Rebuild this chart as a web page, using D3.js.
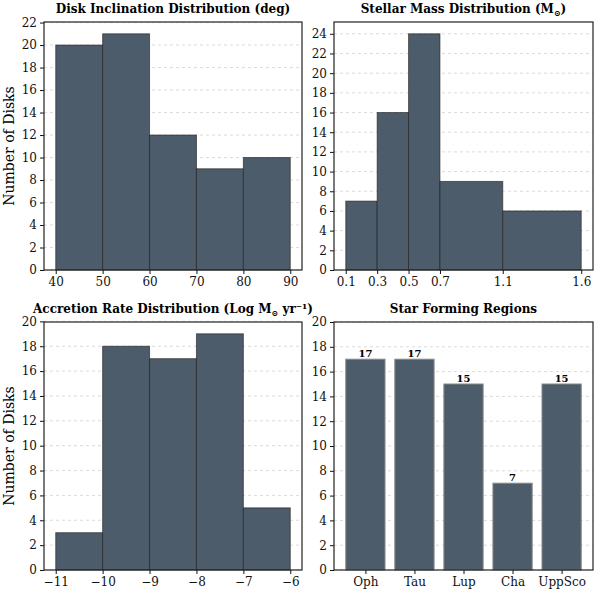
<!DOCTYPE html><html><head><meta charset="utf-8"><script src="https://cdn.jsdelivr.net/npm/d3@7"></script>
<style>body{margin:0;background:#fff}text{font-family:"DejaVu Serif",serif}</style></head><body><svg id="c" width="595" height="590"></svg>
<script>
const incBins=[40,50,60,70,80,90], incCounts=[20,21,12,9,10];
const massBins=[0.1,0.3,0.5,0.7,1.1,1.6], massCounts=[7,16,24,9,6];
const accBins=[-11,-10,-9,-8,-7,-6], accCounts=[3,18,17,19,5];
const regions=["Oph","Tau","Lup","Cha","UppSco"], regionCounts=[17,17,15,7,15];
const svg=d3.select("#c");
const fill="#4d5c6b";
function panel(x0,x1,y0,y1,title,ylabel,xdom,ydom,yticks){
  const g=svg.append("g");
  const x=d3.scaleLinear().domain(xdom).range([x0,x1]);
  const y=d3.scaleLinear().domain(ydom).range([y1,y0]);
  g.selectAll(".gr").data(yticks).join("line").attr("x1",x0).attr("x2",x1).attr("y1",d=>y(d)).attr("y2",d=>y(d)).attr("stroke","#ccc").attr("stroke-dasharray","3,3").attr("stroke-width",0.7);
  const t=g.append("text").attr("x",(x0+x1)/2).attr("y",y0-9).attr("text-anchor","middle").attr("font-weight","bold").attr("font-size",12);
  title.forEach(([s,sub])=>{const ts=t.append("tspan").text(s);if(sub){ts.attr("font-size",8).attr("dy",3);}else if(t.selectAll("tspan").size()>1){ts.attr("dy",-3);} });
  if(ylabel) g.append("text").attr("transform",`translate(${x0-30},${(y0+y1)/2}) rotate(-90)`).attr("text-anchor","middle").attr("font-size",14).text(ylabel);
  return {g,x,y,x0,x1,y0,y1,yticks};
}
function frame(p,xticks,xfmt){
  const {g,x,y,x0,x1,y0,y1}=p;
  const ya=g.append("g").attr("transform",`translate(${x0},0)`).call(d3.axisLeft(y).tickValues(p.yticks).tickSize(4).tickPadding(3));
  const xa=g.append("g").attr("transform",`translate(0,${y1})`).call(d3.axisBottom(x).tickValues(xticks).tickFormat(xfmt).tickSize(4).tickPadding(3));
  [ya,xa].forEach(a=>{a.select(".domain").remove();a.selectAll("text").attr("font-size",12).attr("fill","#111").style("font-family","DejaVu Serif");a.selectAll("line").attr("stroke","#111");});
  g.append("rect").attr("x",x0).attr("y",y0).attr("width",x1-x0).attr("height",y1-y0).attr("fill","none").attr("stroke","#222").attr("stroke-width",1.2);
}
function hist(p,bins,counts){
  p.g.selectAll(".b").data(counts).join("rect").attr("x",(d,i)=>p.x(bins[i])).attr("width",(d,i)=>p.x(bins[i+1])-p.x(bins[i])).attr("y",d=>p.y(d)).attr("height",d=>p.y(0)-p.y(d)).attr("fill",fill).attr("stroke","#1a1a1a").attr("stroke-opacity",0.6).attr("stroke-width",1);
}
const r0=range=>d3.range(0,range+1,2);
let p=panel(44,302,22,270,[["Disk Inclination Distribution (deg)"]],"Number of Disks",[37.5,92.5],[0,22.05],r0(22));
hist(p,incBins,incCounts);frame(p,incBins,d3.format("d"));
p=panel(334,593,22,270,[["Stellar Mass Distribution (M"],["\u2299",1],[")"]],null,[0.025,1.675],[0,25.2],r0(24));
hist(p,massBins,massCounts);frame(p,massBins,d3.format(".1f"));
p=panel(44,302,322,570,[["Accretion Rate Distribution (Log M"],["\u2299",1],[" yr\u207B\u00B9)"]],"Number of Disks",[-11.25,-5.75],[0,19.95],r0(20));
hist(p,accBins,accCounts);frame(p,accBins,d=>d3.format("d")(d).replace("-","\u2212"));
p=panel(334,593,322,570,[["Star Forming Regions"]],null,[-0.64,4.64],[0,20],r0(20));
p.g.selectAll(".b").data(regionCounts).join("rect").attr("x",(d,i)=>p.x(i-0.4)).attr("width",p.x(0.8)-p.x(0)).attr("y",d=>p.y(d)).attr("height",d=>p.y(0)-p.y(d)).attr("fill",fill).attr("stroke","#888").attr("stroke-width",1);
p.g.selectAll(".l").data(regionCounts).join("text").attr("x",(d,i)=>p.x(i)).attr("y",d=>p.y(d)-2).attr("text-anchor","middle").attr("font-weight","bold").attr("font-size",10).text(d=>d);
frame(p,d3.range(5),i=>regions[i]);
</script></body></html>
